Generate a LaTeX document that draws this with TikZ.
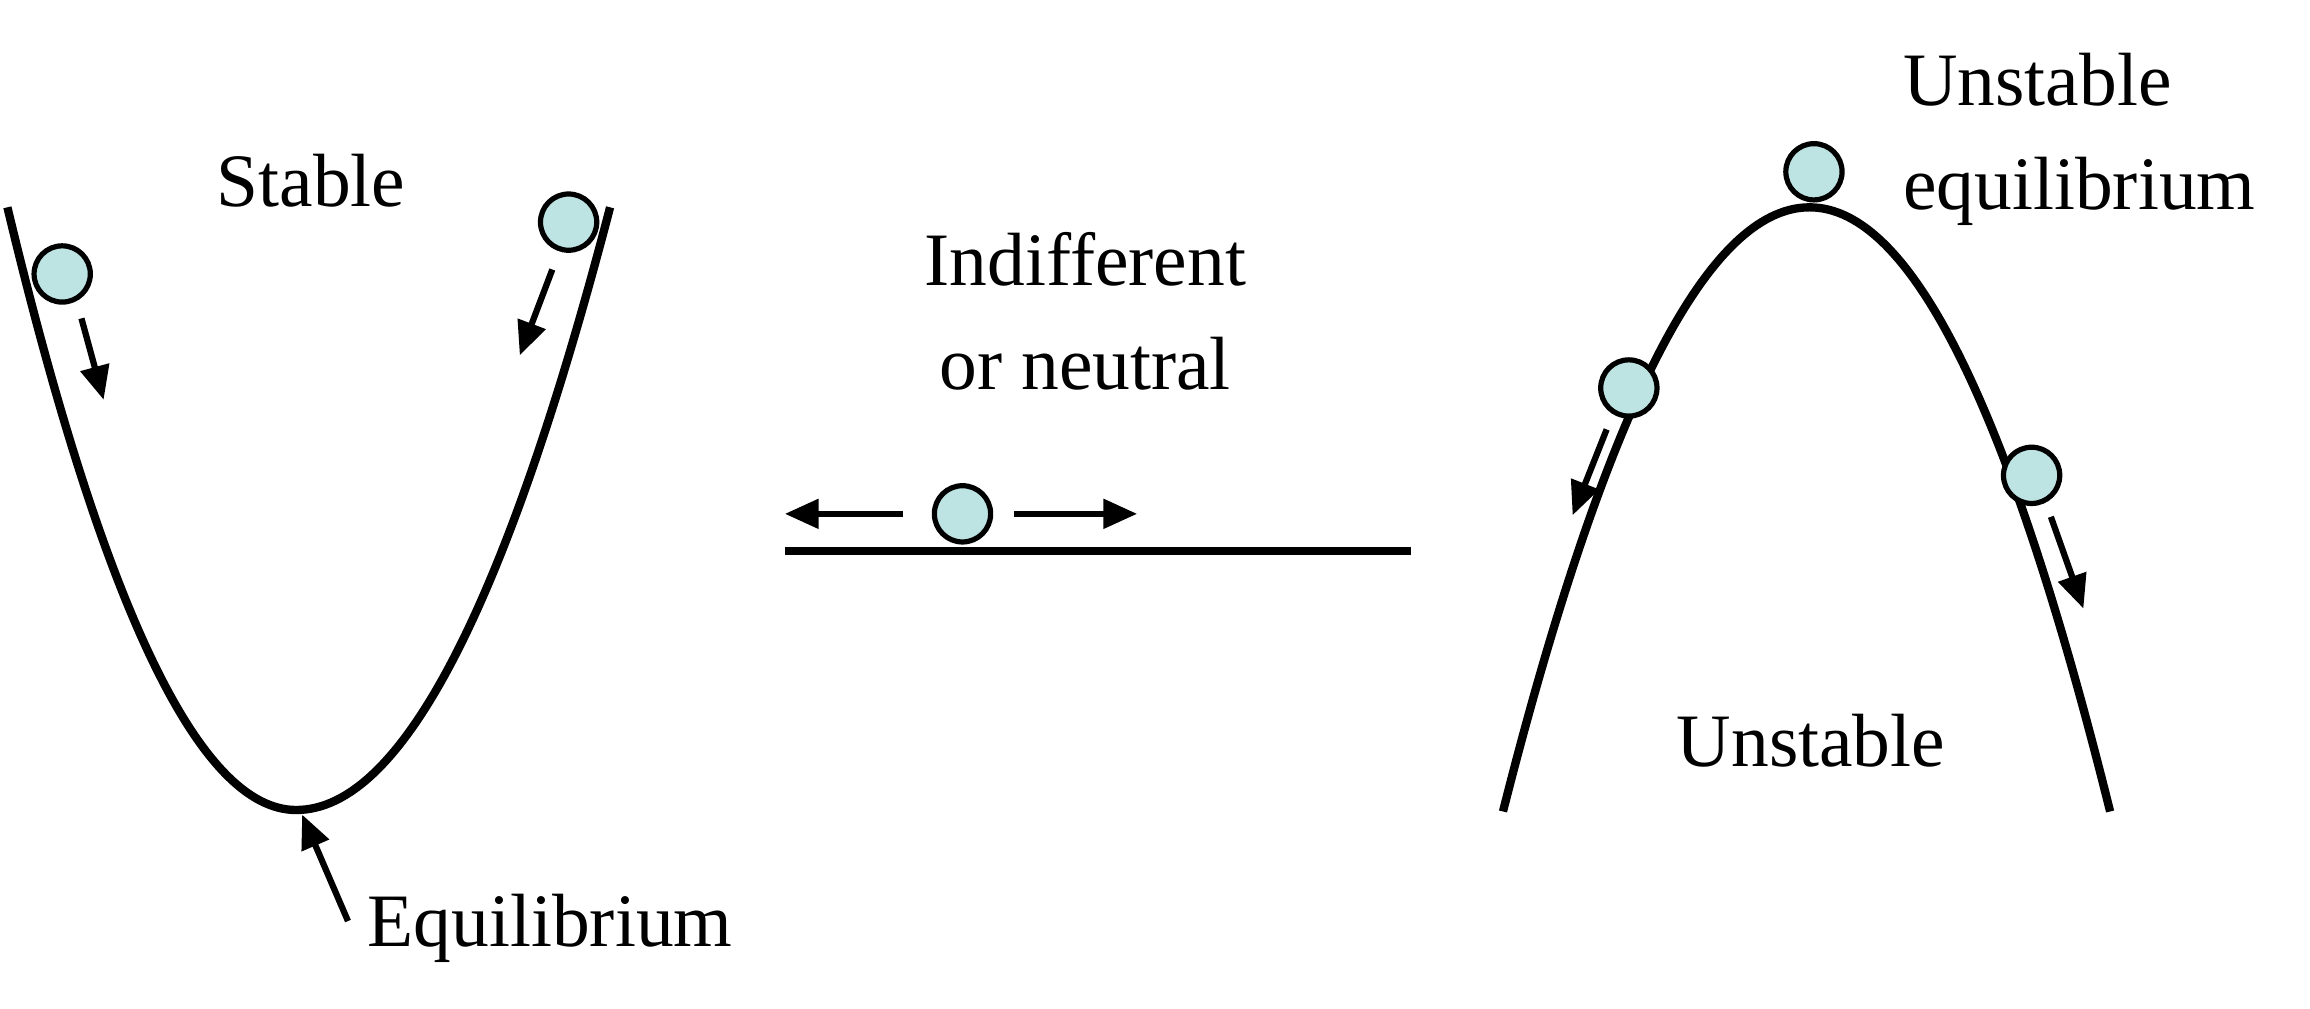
\documentclass[tikz,border=0pt]{standalone}
\usepackage{fontspec}
\setmainfont{Liberation Serif}
\usetikzlibrary{arrows.meta}
\definecolor{ballc}{HTML}{BDE3E3}
\begin{document}
\begin{tikzpicture}[x=0.02cm,y=-0.02cm,
  curve/.style={line width=3.2pt},
  ball/.style={circle,draw,line width=2pt,fill=ballc,minimum size=38*0.02cm,inner sep=0pt},
  arr/.style={line width=2.4pt,-{Triangle[length=13pt,width=11pt]}},
  lbl/.style={font=\fontsize{29}{34}\selectfont,inner sep=0pt}]
\useasboundingbox (0,0) rectangle (1560,681);
% stable well
\draw[curve] (5,140) .. controls (70,411.3) and (135,547) .. (200,547)
  .. controls (270.7,547) and (341.3,411.3) .. (412,140);
% hill
\draw[curve] (1015,548) .. controls (1084,276) and (1153,140) .. (1222,140)
  .. controls (1291,140) and (1357.3,276) .. (1425,548);
% flat
\draw[curve] (530,372) -- (953,372);
% balls
\node[ball] (b1) at (42,185) {};
\node[ball] (b2) at (384,150) {};
\node[ball] (b3) at (650,347) {};
\node[ball] (b4) at (1225,116) {};
\node[ball] (b5) at (1100,262) {};
\node[ball] (b6) at (1372,321) {};
% arrows
\coordinate (a1s) at (55,215); \coordinate (a1e) at (70,270);
\coordinate (a2s) at (373,182); \coordinate (a2e) at (351,240);
\coordinate (a3s) at (610,347); \coordinate (a3e) at (530,347);
\coordinate (a4s) at (685,347); \coordinate (a4e) at (768,347);
\coordinate (a5s) at (1085,290); \coordinate (a5e) at (1062,348);
\coordinate (a6s) at (1385,349); \coordinate (a6e) at (1407,411);
\coordinate (eqs) at (235,622); \coordinate (eqe) at (204,550);
\draw[arr] (a1s) -- (a1e);
\draw[arr] (a2s) -- (a2e);
\draw[arr] (a3s) -- (a3e);
\draw[arr] (a4s) -- (a4e);
\draw[arr] (a5s) -- (a5e);
\draw[arr] (a6s) -- (a6e);
\draw[arr] (eqs) -- (eqe);
% labels
\node[lbl] (tstable) at (210,122) {Stable};
\node[lbl,align=center] (tind) at (733,210) {Indifferent\\[6pt]or neutral};
\node[lbl,align=left,anchor=west] (tueq) at (1285,94) {Unstable\\[6pt]equilibrium};
\node[lbl] (tun) at (1223,500) {Unstable};
\node[lbl,anchor=west] (teq) at (248,627) {Equilibrium};
\end{tikzpicture}
\end{document}
